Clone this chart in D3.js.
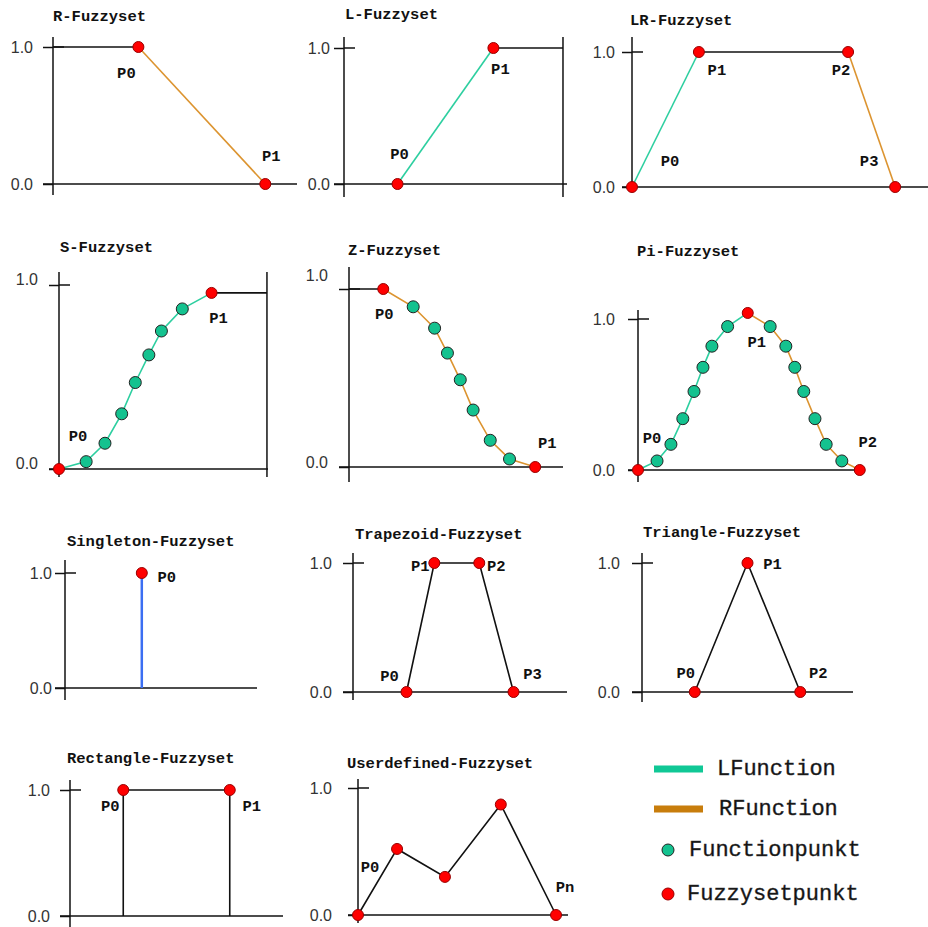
<!DOCTYPE html>
<html>
<head>
<meta charset="utf-8">
<script src="https://cdn.jsdelivr.net/npm/d3@7"></script>
<style>
  body { margin: 0; background: #fff; }
  .title, .pname { font: bold 15.5px "Liberation Mono", monospace; fill: #111; }
  .legend { font: 22px "Liberation Mono", monospace; fill: #111; stroke: #333; stroke-width: 0.4; }
</style>
</head>
<body>
<script>

// values: x as a fraction of the x axis, y as membership degree
var titles = ["R-Fuzzyset", "L-Fuzzyset", "LR-Fuzzyset", "S-Fuzzyset", "Z-Fuzzyset", "Pi-Fuzzyset",
  "Singleton-Fuzzyset", "Trapezoid-Fuzzyset", "Triangle-Fuzzyset", "Rectangle-Fuzzyset", "Userdefined-Fuzzyset"]
var tickValues = [0, 1]

var rX = [0.35, 0.87], rY = [1, 0]
var lX = [0.24, 0.67], lY = [0, 1]
var lrX = [0, 0.226, 0.73, 0.889], lrY = [0, 1, 1, 0]
var sX = [0, .13, .22, .30, .365, .43, .49, .59, .73]
var sY = [0, .04, .14, .30, .47, .62, .75, .87, .957]
var zX = [.16, .30, .40, .46, .52, .58, .66, .75, .87]
var zY = [1, .90, .78, .64, .49, .32, .15, .045, 0]
var piX = [0, .085, .147, .20, .25, .29, .33, .40, .49, .59, .66, .70, .74, .79, .84, .91, .99]
var piY = [0, .06, .17, .34, .52, .68, .82, .95, 1.04, .95, .82, .68, .52, .34, .17, .06, 0]
var singX = [0.40], singY = [1]
var trapX = [.25, .38, .59, .75], trapY = [0, 1, 1, 0]
var triX = [.25, .50, .75], triY = [0, 1, 0]
var rectX = [.25, .75], rectY = [1, 1]
var userX = [0, .186, .414, .68, .943], userY = [0, .52, .30, .87, 0]

var legendItems = ["LFunction", "RFunction", "Functionpunkt", "Fuzzysetpunkt"]
var legendKinds = ["l", "r", "g", "f"]

var colors = {k: "#111", l: "#2dcfa0", r: "#dc9430", b: "#3b6ef2"}

function pts(xs, ys){ return xs.map(function(x, i){ return [x, ys[i]] }) }
var rP = pts(rX, rY), lP = pts(lX, lY), lrP = pts(lrX, lrY), sP = pts(sX, sY), zP = pts(zX, zY)
  , piP = pts(piX, piY), singP = pts(singX, singY), trapP = pts(trapX, trapY), triP = pts(triX, triY)
  , rectP = pts(rectX, rectY), userP = pts(userX, userY)

// layout in pixels: origin x, x axis end, y of 0 and 1, y axis extent, label / title spots
var layout = [
  {ox: 53, xe: 297, y0: 184, y1: 47, top: 37, bot: 195, lx: 33, tx: 53, ty: 17},
  {ox: 344, xe: 567, y0: 184, y1: 48, top: 37, bot: 197, lx: 330, tx: 345, ty: 15},
  {ox: 632, xe: 928, y0: 187, y1: 52, top: 37, bot: 192, lx: 615, tx: 630, ty: 21},
  {ox: 59, xe: 268, y0: 469, y1: 285, top: 272, bot: 477, lx: 38, tx: 60, ty: 248, ly0: -6, ly1: -6},
  {ox: 349, xe: 563, y0: 467, y1: 289, top: 267, bot: 482, lx: 328, tx: 348, ty: 251, ly0: -5, ly1: -14},
  {ox: 638, xe: 862, y0: 470, y1: 319, top: 310, bot: 482, lx: 615, tx: 637, ty: 252},
  {ox: 65, xe: 257, y0: 688, y1: 573, top: 560, bot: 700, lx: 52, tx: 67, ty: 542},
  {ox: 353, xe: 567, y0: 692, y1: 563, top: 553, bot: 700, lx: 332, tx: 355, ty: 535},
  {ox: 642, xe: 853, y0: 692, y1: 563, top: 553, bot: 702, lx: 620, tx: 643, ty: 533},
  {ox: 70, xe: 283, y0: 916, y1: 790, top: 780, bot: 927, lx: 50, tx: 67, ty: 759},
  {ox: 358, xe: 568, y0: 915, y1: 788, top: 779, bot: 923, lx: 332, tx: 347, ty: 764}
]

var panels = [
  {pts: rP, red: [0, 1], names: ["P0", "P1"], off: [[-12, 27], [6, -27]],
    segs: [["k", [[0, 1], rP[0]]], ["r", rP]]},
  {pts: lP, red: [0, 1], names: ["P0", "P1"], off: [[2, -29], [7, 22]], bound: 0.982,
    segs: [["l", lP], ["k", [lP[1], [0.982, 1]]]]},
  {pts: lrP, red: [0, 1, 2, 3], names: ["P0", "P1", "P2", "P3"], off: [[38, -25], [18, 19], [-7, 19], [-26, -25]],
    segs: [["l", lrP.slice(0, 2)], ["k", lrP.slice(1, 3)], ["r", lrP.slice(2)]]},
  {pts: sP, red: [0, 8], names: ["P0", "P1"], off: [[19, -32], [7, 26]], bound: 0.995,
    segs: [["l", sP], ["k", [sP[8], [0.995, sY[8]]]]]},
  {pts: zP, red: [0, 8], names: ["P0", "P1"], off: [[1, 26], [12, -23]],
    segs: [["k", [[0, 1], zP[0]]], ["r", zP]]},
  {pts: piP, red: [0, 8, 16], names: ["P0", "P1", "P2"], off: [[14, -31], [9, 30], [8, -27]],
    segs: [["l", piP.slice(0, 9)], ["r", piP.slice(8)]]},
  {pts: singP, red: [0], names: ["P0"], off: [[25, 5]],
    segs: [["b", [[singX[0], 0], singP[0]]]]},
  {pts: trapP, red: [0, 1, 2, 3], names: ["P0", "P1", "P2", "P3"], off: [[-17, -15], [-14, 4], [17, 4], [19, -17]],
    segs: [["k", trapP]]},
  {pts: triP, red: [0, 1, 2], names: ["P0", "P1", "P2"], off: [[-9, -18], [25, 2], [18, -18]],
    segs: [["k", triP]]},
  {pts: rectP, red: [0, 1], names: ["P0", "P1"], off: [[-13, 17], [22, 17]],
    segs: [["k", [[rectX[0], 0], rectP[0], rectP[1], [rectX[1], 0]]]]},
  {pts: userP, red: [0, 1, 2, 3, 4], names: ["P0", null, null, null, "Pn"], off: [[12, -47], null, null, null, [9, -27]],
    segs: [["k", userP]]}
]

var svg = d3.select("body").append("svg").attr("width", 928).attr("height", 927)

panels.forEach(function(p, i){
  var L = layout[i]
    , x = d3.scaleLinear([0, 1], [L.ox, L.xe])
    , y = d3.scaleLinear([0, 1], [L.y0, L.y1])
    , g = svg.append("g")
    , line = d3.line().x(function(d){ return x(d[0]) }).y(function(d){ return y(d[1]) })

  g.append("text").attr("class", "title").attr("x", L.tx).attr("y", L.ty)
    .attr("dominant-baseline", "central").text(titles[i])

  // axes
  g.append("line").attr("x1", L.ox).attr("x2", L.ox).attr("y1", L.top).attr("y2", L.bot)
    .attr("stroke", "#111").attr("stroke-width", 1.5)
  g.append("line").attr("x1", L.ox - 10).attr("x2", L.xe).attr("y1", y(0)).attr("y2", y(0))
    .attr("stroke", "#111").attr("stroke-width", 1.5)
  g.append("line").attr("x1", L.ox).attr("x2", L.ox + 11).attr("y1", y(1)).attr("y2", y(1))
    .attr("stroke", "#111").attr("stroke-width", 1.5)
  if(p.bound) g.append("line").attr("x1", x(p.bound)).attr("x2", x(p.bound)).attr("y1", L.top).attr("y2", L.bot)
    .attr("stroke", "#111").attr("stroke-width", 1.5)

  var ax = g.append("g").attr("transform", "translate(" + L.ox + ",0)")
    .call(d3.axisLeft(y).tickValues(tickValues).tickFormat(d3.format(".1f")).tickSize(10).tickPadding(L.ox - 10 - L.lx))
  ax.select(".domain").remove()
  ax.selectAll("line").attr("stroke", "#111").attr("stroke-width", 1.5)
  ax.selectAll("text").attr("font-family", "Liberation Sans, sans-serif").attr("font-size", 16).attr("fill", "#333")
    .attr("y", function(d){ return d ? (L.ly1 || 0) : (L.ly0 || 0) })

  p.segs.forEach(function(s){
    g.append("path").attr("d", line(s[1])).attr("fill", "none")
      .attr("stroke", colors[s[0]]).attr("stroke-width", s[0] === "b" ? 2.5 : 1.6)
  })

  p.pts.forEach(function(d, j){
    var isRed = p.red.indexOf(j) >= 0
    g.append("circle").attr("cx", x(d[0])).attr("cy", y(d[1])).attr("r", isRed ? 5.5 : 6)
      .attr("fill", isRed ? "#ff0000" : "#14c28f").attr("stroke", isRed ? "#900" : "#222").attr("stroke-width", 1)
  })

  p.red.forEach(function(j, k){
    if(!p.names[k]) return
    var d = p.pts[j]
    g.append("text").attr("class", "pname")
      .attr("x", x(d[0]) + p.off[k][0]).attr("y", y(d[1]) + p.off[k][1])
      .attr("text-anchor", "middle").attr("dominant-baseline", "central").text(p.names[k])
  })
})

// legend
var legendY = d3.scalePoint(legendItems, [769, 894])
  , lg = svg.append("g")
legendItems.forEach(function(name, i){
  var k = legendKinds[i], yy = [769, 809, 850, 894][i]
  if(k === "l" || k === "r")
    lg.append("line").attr("x1", 654).attr("x2", 703).attr("y1", yy).attr("y2", yy)
      .attr("stroke", k === "l" ? "#10c896" : "#c87d0c").attr("stroke-width", 7)
  else
    lg.append("circle").attr("cx", 668).attr("cy", yy).attr("r", 6)
      .attr("fill", k === "g" ? "#14c28f" : "#ff0000").attr("stroke", k === "g" ? "#222" : "#900")
  lg.append("text").attr("class", "legend").attr("x", [717, 719, 689, 687][i]).attr("y", yy)
    .attr("dominant-baseline", "central").text(name)
})

</script>
</body>
</html>
